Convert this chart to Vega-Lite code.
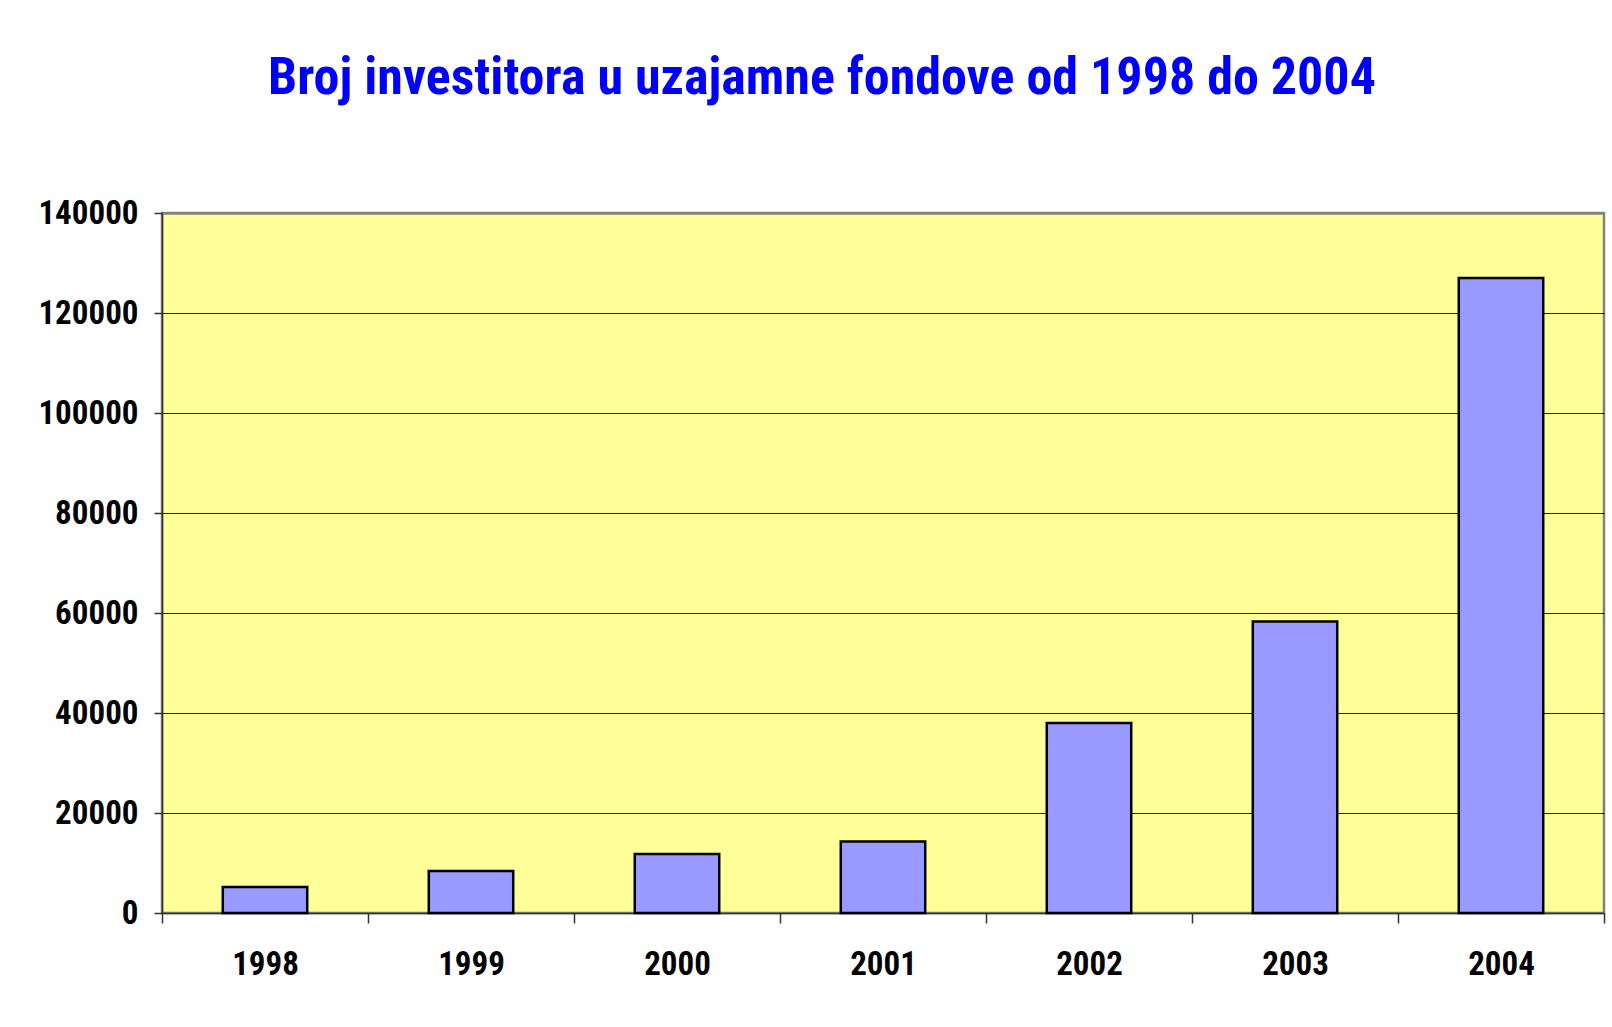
{
  "$schema": "https://vega.github.io/schema/vega-lite/v6.json",
  "autosize": "none",
  "width": 1442,
  "height": 700,
  "padding": {"left": 162, "top": 213, "right": 8, "bottom": 114},
  "background": "white",
  "title": {
    "text": "Broj investitora u uzajamne fondove  od 1998 do 2004",
    "font": "Roboto Condensed, Liberation Sans, Arial, sans-serif",
    "fontSize": 52,
    "fontWeight": "bold",
    "color": "#0000FF",
    "anchor": "middle",
    "frame": "group",
    "dx": -61,
    "offset": 92
  },
  "config": {
    "view": {"fill": "#FFFF99", "stroke": "#808080", "strokeWidth": 2.5},
    "axis": {
      "labelFont": "Roboto Condensed, Liberation Sans, Arial, sans-serif",
      "labelFontWeight": "bold",
      "labelFontSize": 33,
      "labelColor": "black",
      "domainColor": "#333333",
      "domainWidth": 1.5,
      "tickColor": "#333333",
      "tickWidth": 1.5,
      "title": null
    }
  },
  "data": {
    "values": [
      {"year": "1998", "investors": 5200},
      {"year": "1999", "investors": 8400},
      {"year": "2000", "investors": 11800},
      {"year": "2001", "investors": 14300},
      {"year": "2002", "investors": 38000},
      {"year": "2003", "investors": 58300},
      {"year": "2004", "investors": 127000}
    ]
  },
  "mark": {"type": "bar", "fill": "#9999FF", "stroke": "black", "strokeWidth": 2.5, "width": {"band": 0.41}},
  "encoding": {
    "x": {
      "field": "year",
      "type": "nominal",
      "sort": null,
      "scale": {"paddingInner": 0, "paddingOuter": 0},
      "axis": {
        "labelAngle": 0,
        "tickBand": "extent",
        "tickSize": 10,
        "labelPadding": 25,
        "grid": false
      }
    },
    "y": {
      "field": "investors",
      "type": "quantitative",
      "scale": {"domain": [0, 140000], "nice": false},
      "axis": {
        "values": [0, 20000, 40000, 60000, 80000, 100000, 120000, 140000],
        "format": "d",
        "tickSize": 8,
        "labelPadding": 16,
        "grid": true,
        "gridColor": {"condition": {"test": "datum.value === 140000", "value": "#808080"}, "value": "black"},
        "gridWidth": {"condition": {"test": "datum.value === 140000", "value": 2.5}, "value": 1},
        "gridOpacity": 0.85
      }
    }
  }
}
